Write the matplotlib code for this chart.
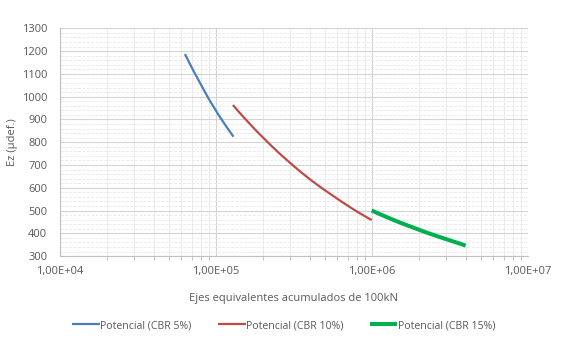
import matplotlib
matplotlib.use("Agg")
import matplotlib.pyplot as plt
from matplotlib.ticker import NullFormatter, MultipleLocator, LogLocator

# Data
cbr5_x = [6.35e4, 6.75e4, 7.18e4, 7.65e4, 8.13e4, 8.65e4, 9.19e4, 9.8e4, 1.04e5, 1.11e5, 1.18e5, 1.24e5, 1.30e5]
cbr5_y = [1187, 1151, 1115, 1080, 1047, 1013, 981, 950, 921, 892, 865, 844, 824]

cbr10_x = [1.29e5, 1.45e5, 1.62e5, 1.81e5, 2.02e5, 2.26e5, 2.52e5, 2.78e5, 3.07e5, 3.5e5,
           4.02e5, 4.5e5, 5.01e5, 5.7e5, 6.41e5, 7.25e5, 8.2e5, 9.05e5, 1.0e6]
cbr10_y = [963, 923, 887, 852, 819, 786, 755, 729, 703, 670,
           637, 612, 589, 563, 539, 515, 492, 475, 458]

cbr15_x = [1.0e6, 1.12e6, 1.25e6, 1.41e6, 1.60e6, 1.80e6, 2.04e6, 2.30e6, 2.61e6, 2.95e6, 3.34e6, 3.66e6, 4.0e6]
cbr15_y = [500, 485, 471, 456, 441, 428, 414, 401, 388, 376, 364, 355, 346]

labels = ["Potencial (CBR 5%)", "Potencial (CBR 10%)", "Potencial (CBR 15%)"]
xtick_vals = [1e4, 1e5, 1e6, 1e7]
xtick_labels = ["1,00E+04", "1,00E+05", "1,00E+06", "1,00E+07"]
ytick_vals = list(range(300, 1301, 100))

plt.rcParams['font.family'] = ['Open Sans', 'DejaVu Sans']
txt = '#595959'
fs = 8

fig = plt.figure(figsize=(5.62, 3.42), dpi=100)
ax = fig.add_axes([0.1062, 0.2512, 0.939 - 0.1062, 0.9173 - 0.2512])

ax.plot(cbr5_x, cbr5_y, color='#4A7EBB', lw=1.6, label=labels[0], solid_capstyle='butt')
ax.plot(cbr10_x, cbr10_y, color='#BE4B48', lw=1.6, label=labels[1], solid_capstyle='butt')
ax.plot(cbr15_x, cbr15_y, color='#00B050', lw=2.9, label=labels[2], solid_capstyle='butt')

ax.set_xscale('log')
ax.set_xlim(1e4, 1e7)
ax.set_ylim(300, 1300)
ax.set_xticks(xtick_vals)
ax.set_xticklabels(xtick_labels)
ax.xaxis.set_minor_locator(LogLocator(base=10, subs=range(2, 10)))
ax.xaxis.set_minor_formatter(NullFormatter())
ax.set_yticks(ytick_vals)
ax.yaxis.set_minor_locator(MultipleLocator(20))

ax.grid(which='major', color='#D4D4D4', lw=0.8)
ax.grid(which='minor', axis='y', color='#EBEBEB', lw=0.7, ls=(0, (3, 1.5)))
ax.grid(which='minor', axis='x', color='#EBEBEB', lw=0.7)
ax.set_axisbelow(True)

for s in ['top', 'right']:
    ax.spines[s].set_visible(False)
for s in ['left', 'bottom']:
    ax.spines[s].set_color('#BFBFBF')
    ax.spines[s].set_linewidth(0.8)

ax.tick_params(which='both', length=0, labelsize=fs, colors=txt)
ax.tick_params(axis='y', which='major', pad=9)
ax.tick_params(axis='x', which='minor', length=3, color='#BFBFBF', direction='out')
ax.tick_params(axis='x', which='major', pad=7)

ax.set_xlabel("Ejes equivalentes acumulados de 100kN", fontsize=fs, color=txt, labelpad=12)
ax.set_ylabel("Ez (μdef.)", fontsize=fs, color=txt)
ax.yaxis.set_label_coords(-0.088, 0.5)

leg = fig.legend(loc='center', bbox_to_anchor=(0.505, 0.048), ncol=3, frameon=False,
                 fontsize=7.6, handlelength=2.6, handletextpad=0.05, columnspacing=2.5)
for t in leg.get_texts():
    t.set_color(txt)

fig.savefig("out.png", dpi=100)
